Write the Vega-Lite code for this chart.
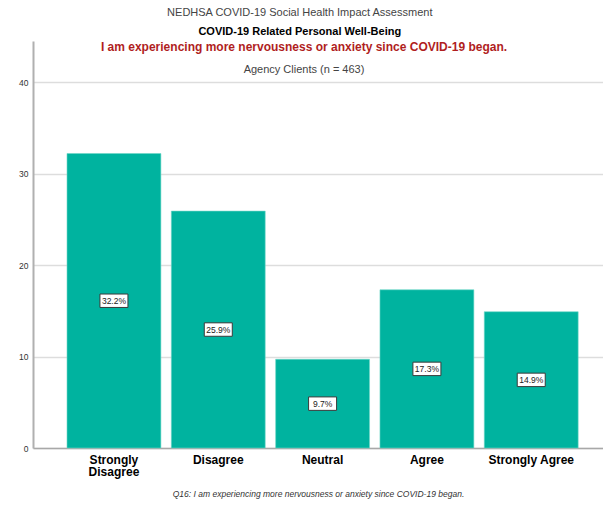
{
  "$schema": "https://vega.github.io/schema/vega-lite/v6.json",
  "padding": {"left": 18, "top": 7, "right": 0, "bottom": 6},
  "background": "white",
  "config": {
    "font": "Liberation Sans",
    "view": {"stroke": null}
  },
  "title": {
    "text": "NEDHSA COVID-19 Social Health Impact Assessment",
    "subtitle": "COVID-19 Related Personal Well-Being",
    "anchor": "middle",
    "dx": -11,
    "offset": 4,
    "fontSize": 11,
    "fontWeight": "normal",
    "color": "#444444",
    "subtitleFontSize": 11,
    "subtitleFontWeight": "bold",
    "subtitleColor": "#000000",
    "subtitlePadding": 8
  },
  "vconcat": [
    {
      "width": 570,
      "height": 407,
      "title": {
        "text": "I am experiencing more nervousness or anxiety since COVID-19 began.",
        "subtitle": "Agency Clients (n = 463)",
        "anchor": "middle",
        "dx": -14,
        "offset": -35,
        "fontSize": 12,
        "fontWeight": "bold",
        "color": "#b01e1e",
        "subtitleFontSize": 11,
        "subtitleFontWeight": "normal",
        "subtitleColor": "#444444",
        "subtitlePadding": 10
      },
      "data": {
        "values": [
          {"response": "Strongly Disagree", "share": 0.322},
          {"response": "Disagree", "share": 0.259},
          {"response": "Neutral", "share": 0.097},
          {"response": "Agree", "share": 0.173},
          {"response": "Strongly Agree", "share": 0.149}
        ]
      },
      "encoding": {
        "x": {
          "field": "response",
          "type": "nominal",
          "sort": null,
          "scale": {"paddingInner": 0.1, "paddingOuter": 0.282, "align": 0.578},
          "axis": {
            "title": "Q16: I am experiencing more nervousness or anxiety since COVID-19 began.",
            "titleFont": "Liberation Sans",
            "titleFontSize": 8.5,
            "titleFontStyle": "italic",
            "titleFontWeight": "normal",
            "titleColor": "#333333",
            "titlePadding": 12,
            "labelAngle": 0,
            "labelFontSize": 12,
            "labelFontWeight": "bold",
            "labelColor": "#000000",
            "labelPadding": 6,
            "labelLineHeight": 12.5,
            "labelExpr": "datum.value == 'Strongly Disagree' ? ['Strongly', 'Disagree'] : datum.value",
            "ticks": false,
            "domainColor": "#a8a8a8",
            "domainWidth": 1.5
          }
        }
      },
      "layer": [
        {
          "mark": {"type": "bar", "color": "#00b39f", "stroke": "#6fd6c8", "strokeWidth": 0.6},
          "encoding": {
            "y": {
              "field": "share",
              "type": "quantitative",
              "scale": {"domain": [0, 0.445], "nice": false},
              "axis": {
                "title": null,
                "values": [0, 0.1, 0.2, 0.3, 0.4],
                "labelExpr": "format(datum.value * 100, 'd')",
                "labelFontSize": 8.5,
                "labelColor": "#333333",
                "labelPadding": 5,
                "ticks": false,
                "domainColor": "#b0b0b0",
                "domainWidth": 2,
                "gridColor": "#dddddd",
                "gridWidth": 1.5
              }
            }
          }
        },
        {
          "layer": [
            {
              "mark": {
                "type": "point",
                "shape": "M-1,-0.48H1V0.48H-1Z",
                "size": 784,
                "filled": true,
                "fill": "white",
                "stroke": "#3a3a3a",
                "strokeWidth": 1,
                "opacity": 1
              }
            },
            {
              "mark": {"type": "text", "fontSize": 8.5, "color": "#222222", "font": "Liberation Sans"},
              "encoding": {"text": {"field": "share", "type": "quantitative", "format": ".1%"}}
            }
          ],
          "encoding": {
            "y": {
              "field": "share",
              "type": "quantitative",
              "scale": {"domain": [0, 0.89], "nice": false},
              "axis": null
            }
          }
        }
      ],
      "resolve": {"scale": {"y": "independent"}}
    }
  ]
}
